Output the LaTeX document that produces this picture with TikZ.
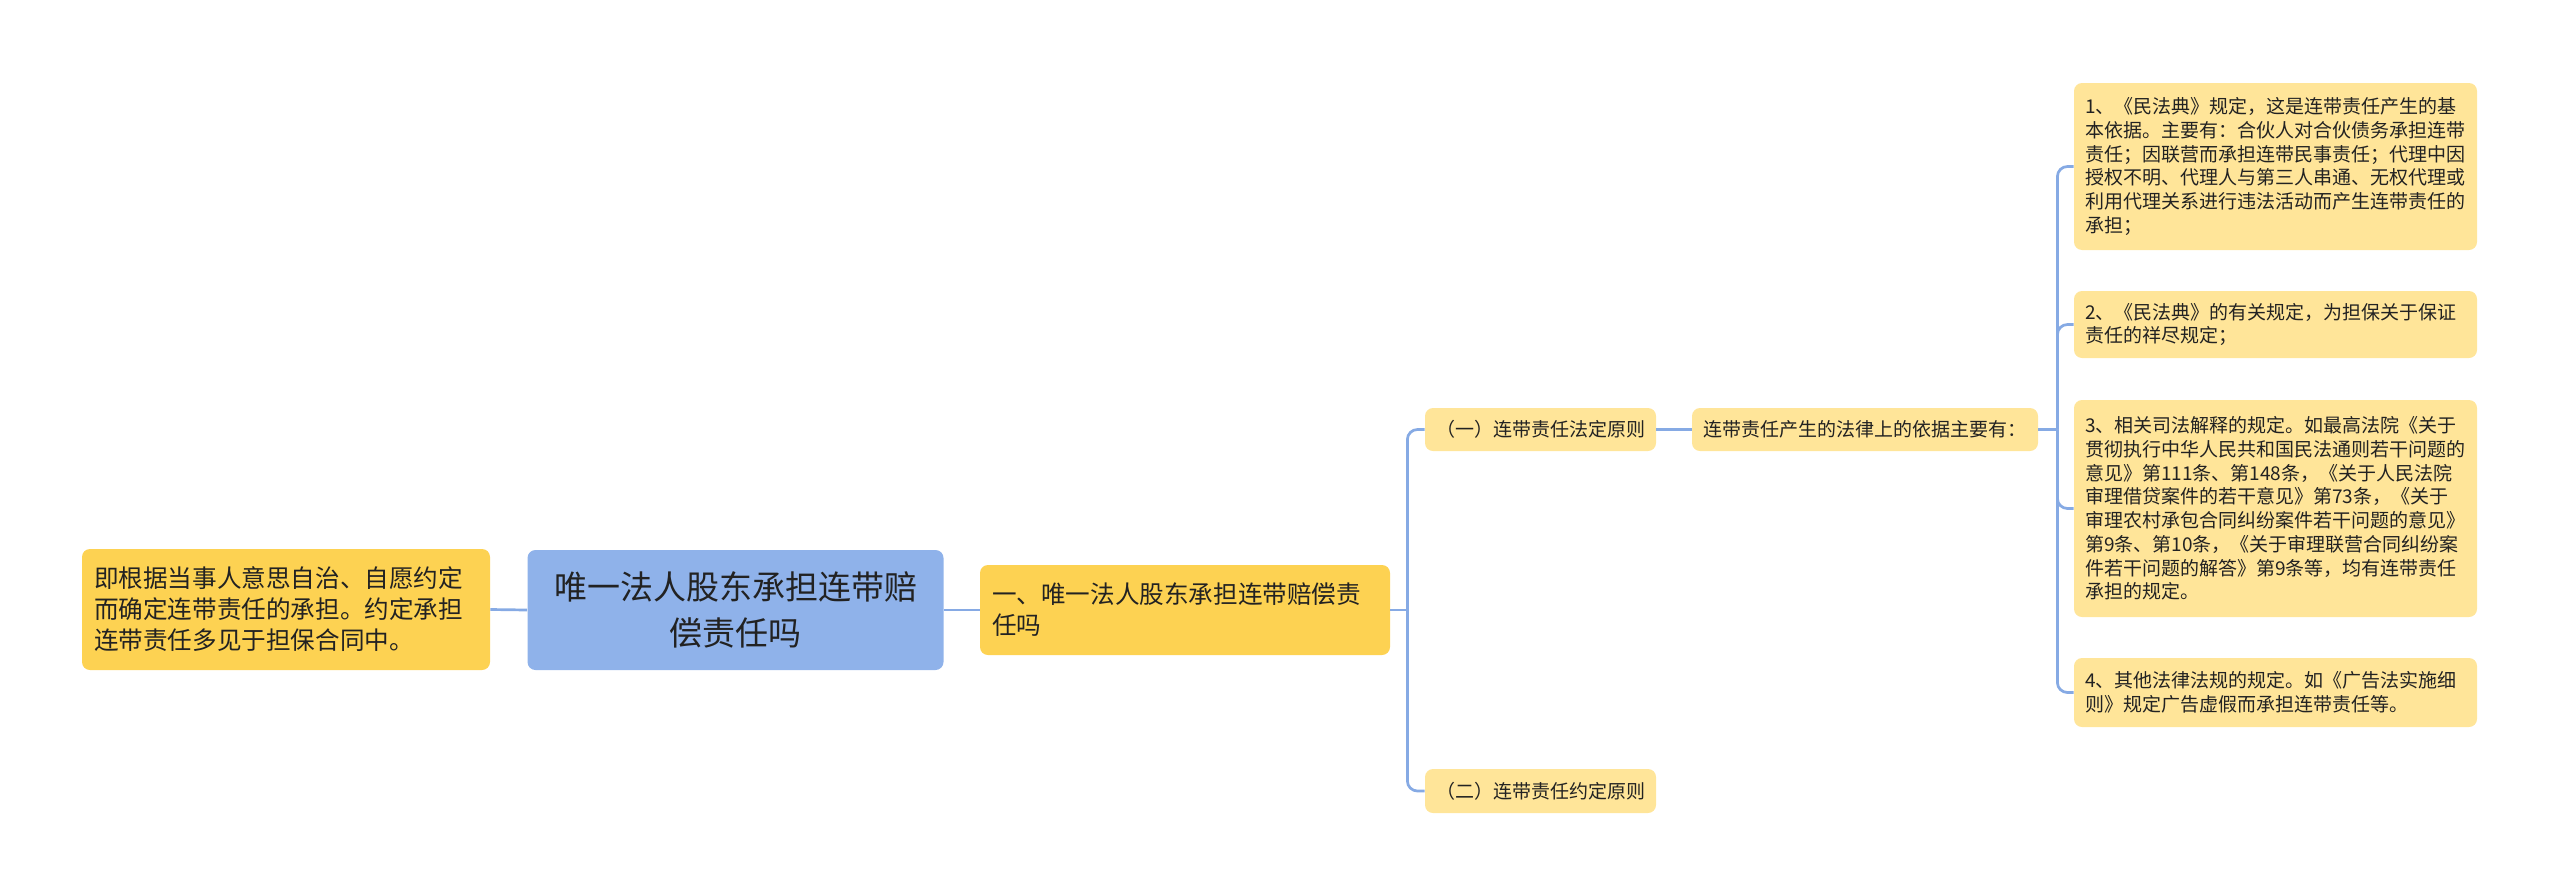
\documentclass[tikz,border=0pt]{standalone}
\usepackage{fontspec}
\setmainfont{Noto Sans CJK SC}
\usetikzlibrary{positioning}

\definecolor{rootblue}{RGB}{143,178,234}
\definecolor{linkblue}{RGB}{134,170,228}
\definecolor{mainyellow}{RGB}{253,210,82}
\definecolor{leafyellow}{RGB}{255,229,153}
\definecolor{textgray}{RGB}{34,34,34}

\begin{document}
\begin{tikzpicture}[x=0.5pt, y=-0.5pt,
    box/.style={rounded corners=4pt, text=textgray, inner ysep=0pt, anchor=center},
    rootbox/.style={box, fill=rootblue, font=\fontsize{16.5}{23}\selectfont, align=center, text width=196pt, inner xsep=6pt},
    bigbox/.style={box, fill=mainyellow, font=\fontsize{12.3}{15.5}\selectfont, align=left, inner xsep=6pt},
    smallbox/.style={box, fill=leafyellow, font=\fontsize{9.5}{11.85}\selectfont, align=center, inner xsep=5pt},
    leaf/.style={box, fill=leafyellow, font=\fontsize{9.5}{11.85}\selectfont, align=left, text width=190.5pt, inner xsep=5.5pt},
    link/.style={draw=linkblue, line width=1.35pt, rounded corners=5pt}]
  \useasboundingbox (0,0) rectangle (2560,895);

  % ==== 中心主题 ====
  \node[rootbox, minimum height=60pt] (root) at (735.5,610) {唯一法人股东承担连带赔\\偿责任吗};

  % ==== 左侧：约定原则说明 ====
  \node[bigbox, text width=192pt, minimum height=60.5pt] (yd) at (286,609.5)
    {即根据当事人意思自治、自愿约定\\而确定连带责任的承担。约定承担\\连带责任多见于担保合同中。};

  % ==== 右侧：第一层 ====
  \node[bigbox, text width=193pt, minimum height=45pt] (l1) at (1185,610)
    {一、唯一法人股东承担连带赔偿责\\任吗};

  % ==== 右侧：第二层 ====
  \node[smallbox, minimum width=115.5pt, minimum height=21.5pt] (p1) at (1540.5,429.5) {（一）连带责任法定原则};
  \node[smallbox, minimum width=115.5pt, minimum height=22pt] (p2) at (1540.5,791) {（二）连带责任约定原则};
  \node[smallbox, minimum width=173pt, minimum height=21.5pt] (basis) at (1865,429.5) {连带责任产生的法律上的依据主要有：};

  % ==== 右侧：依据列表 ====
  \node[leaf, minimum height=83.5pt] (leaf1) at (2275.5,166.5)
    {1、《民法典》规定，这是连带责任产生的基\\本依据。主要有：合伙人对合伙债务承担连带\\责任；因联营而承担连带民事责任；代理中因\\授权不明、代理人与第三人串通、无权代理或\\利用代理关系进行违法活动而产生连带责任的\\承担；};
  \node[leaf, minimum height=33.5pt] (leaf2) at (2275.5,324.5)
    {2、《民法典》的有关规定，为担保关于保证\\责任的祥尽规定；};
  \node[leaf, minimum height=108.5pt] (leaf3) at (2275.5,508.5)
    {3、相关司法解释的规定。如最高法院《关于\\贯彻执行中华人民共和国民法通则若干问题的\\意见》第111条、第148条，《关于人民法院\\审理借贷案件的若干意见》第73条，《关于\\审理农村承包合同纠纷案件若干问题的意见》\\第9条、第10条，《关于审理联营合同纠纷案\\件若干问题的解答》第9条等，均有连带责任\\承担的规定。};
  \node[leaf, minimum height=34.5pt] (leaf4) at (2275.5,692.5)
    {4、其他法律法规的规定。如《广告法实施细\\则》规定广告虚假而承担连带责任等。};

  % ==== 连线 ====
  \draw[link] (root.west) -- (yd.east);
  \draw[link] (root.east) -- (l1.west);
  \coordinate (j1) at ([xshift=8.5pt]l1.east);
  \draw[link] (l1.east) -- (j1);
  \draw[link] (j1) |- (p1.west);
  \draw[link] (j1) |- (p2.west);
  \draw[link] (p1.east) -- (basis.west);
  \coordinate (j2) at ([xshift=9.5pt]basis.east);
  \draw[link] (basis.east) -- (j2);
  \foreach \n in {leaf1,leaf2,leaf3,leaf4}
    \draw[link] (j2) |- (\n.west);
\end{tikzpicture}
\end{document}
